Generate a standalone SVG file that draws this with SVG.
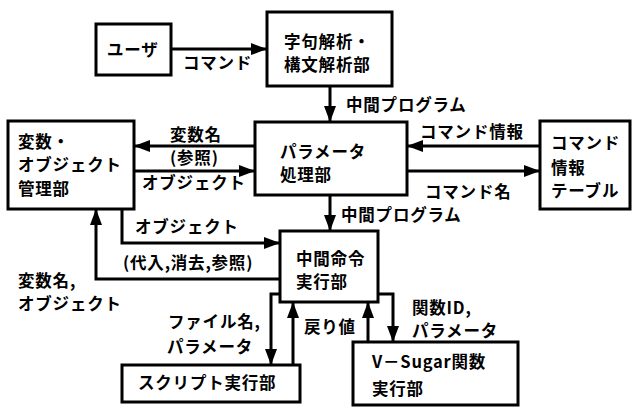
<svg xmlns="http://www.w3.org/2000/svg" width="632" height="407" viewBox="0 0 632 407">
<style>
.box{fill:#fff;stroke:#000;stroke-width:3}
.ln{fill:none;stroke:#000;stroke-width:3;marker-end:url(#ah)}
text{font-family:"Noto Sans CJK JP","Noto Sans",sans-serif;font-size:16.5px;font-weight:bold;fill:#000;letter-spacing:0.8px}
</style>
<defs>
<marker id="ah" markerUnits="userSpaceOnUse" markerWidth="16" markerHeight="12" refX="15" refY="6" orient="auto">
<path d="M0,0 L16,6 L0,12 Z" fill="#000"/>
</marker>
</defs>
<rect width="632" height="407" fill="#fff"/>
<g id="connectors">
<path class="ln" d="M171,49 H266"/>
<path class="ln" d="M330,86 V121"/>
<path class="ln" d="M255,146 H135"/>
<path class="ln" d="M134,171 H254"/>
<path class="ln" d="M540,146 H408"/>
<path class="ln" d="M407,171 H539"/>
<path class="ln" d="M330,195 V230"/>
<path class="ln" d="M122,209 V243 H279"/>
<path class="ln" d="M280,279 H96 V210"/>
<path class="ln" d="M280,294 H271 V364"/>
<path class="ln" d="M293,365 V303"/>
<path class="ln" d="M378,294 H393 V341"/>
<path class="ln" d="M368,342 V303"/>
</g>
<g id="labels">
<text x="183" y="69">コマンド</text>
<text x="346" y="111">中間プログラム</text>
<text x="420" y="138">コマンド情報</text>
<text x="170" y="141">変数名</text>
<text x="170" y="164">(参照)</text>
<text x="142" y="189">オブジェクト</text>
<text x="425" y="198">コマンド名</text>
<text x="341" y="221">中間プログラム</text>
<text x="135" y="233">オブジェクト</text>
<text x="123" y="269">(代入,消去,参照)</text>
<text x="18" y="287">変数名,</text>
<text x="18" y="310">オブジェクト</text>
<text x="168" y="328">ファイル名,</text>
<text x="167" y="353">パラメータ</text>
<text x="304" y="333">戻り値</text>
<text x="412" y="314">関数ID,</text>
<text x="412" y="337">パラメータ</text>
</g>
<g id="user"><rect class="box" x="96" y="24" width="75" height="51"/><text x="107" y="56">ユーザ</text></g>
<g id="parser"><rect class="box" x="267" y="12" width="125" height="74"/><text x="284" y="48">字句解析・</text><text x="284" y="71">構文解析部</text></g>
<g id="varmgr"><rect class="box" x="8" y="121" width="126" height="88"/><text x="18" y="148">変数・</text><text x="18" y="171">オブジェクト</text><text x="18" y="195">管理部</text></g>
<g id="param"><rect class="box" x="255" y="122" width="152" height="73"/><text x="280" y="158">パラメータ</text><text x="280" y="181">処理部</text></g>
<g id="cmdtable"><rect class="box" x="540" y="121" width="90" height="88"/><text x="551" y="149">コマンド</text><text x="551" y="174">情報</text><text x="551" y="197">テーブル</text></g>
<g id="exec"><rect class="box" x="280" y="231" width="98" height="71"/><text x="296" y="265">中間命令</text><text x="296" y="288">実行部</text></g>
<g id="script"><rect class="box" x="122" y="365" width="178" height="37"/><text x="138" y="389">スクリプト実行部</text></g>
<g id="vsugar"><rect class="box" x="353" y="342" width="165" height="63"/><text x="372" y="368">V－Sugar関数</text><text x="372" y="395">実行部</text></g>
</svg>
